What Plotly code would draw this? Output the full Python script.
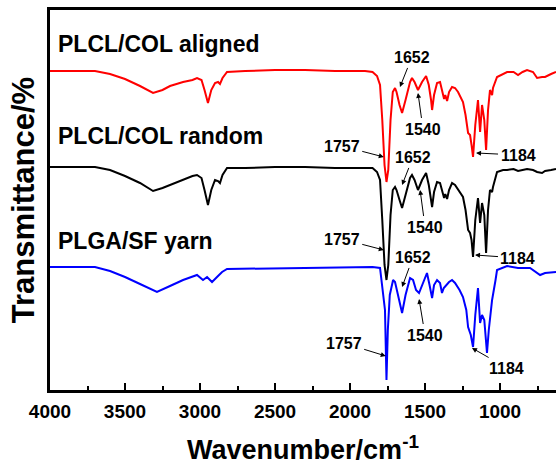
import plotly.graph_objects as go

# ---------------- data (wavenumber in cm^-1, transmittance in stacked arbitrary units) ----------------
aligned_wn = [4000, 3900, 3700, 3600, 3500, 3400, 3313, 3250, 3200, 3113, 3050, 3020, 2990, 2970, 2947,
              2925, 2900, 2880, 2867, 2850, 2820, 2700, 2500, 2300, 2100, 1900, 1850, 1820, 1800, 1785,
              1770, 1757, 1745, 1730, 1715, 1700, 1690, 1670, 1653, 1630, 1600, 1587, 1570, 1547, 1520,
              1493, 1475, 1460, 1453, 1440, 1420, 1400, 1385, 1373, 1365, 1353, 1340, 1320, 1300, 1280,
              1247, 1230, 1213, 1200, 1190, 1180, 1165, 1147, 1133, 1120, 1105, 1093, 1080, 1067, 1053,
              1047, 1020, 980, 953, 910, 880, 850, 820, 780, 753, 720, 700, 660, 627]
aligned_t = [319, 319, 319, 316, 311, 304, 297, 300, 304, 308, 310, 312, 310, 300, 287,
             300, 307, 308, 306, 312, 318, 319, 320, 320, 319, 319, 318, 314, 305, 270,
             225, 208, 220, 270, 298, 302, 298, 285, 277, 290, 308, 312, 308, 300, 308,
             314, 305, 290, 280, 295, 307, 308, 300, 291, 295, 289, 298, 303, 302, 298,
             288, 275, 257, 255, 245, 233, 265, 290, 258, 285, 270, 240, 280, 300, 295,
             302, 313, 316, 318, 318, 315, 318, 320, 318, 312, 313, 313, 316, 318]

random_wn = aligned_wn
random_t = [223, 223, 223, 220, 214, 207, 199, 202, 205, 211, 214, 215, 212, 200, 185,
            200, 210, 209, 207, 215, 222, 222, 223, 223, 222, 222, 222, 218, 210, 170,
            125, 110, 125, 175, 200, 203, 200, 190, 182, 195, 212, 215, 210, 200, 210,
            217, 205, 190, 183, 198, 208, 207, 198, 192, 196, 191, 200, 207, 205, 200,
            193, 180, 160, 157, 150, 133, 170, 192, 167, 187, 175, 137, 180, 200, 198,
            203, 218, 220, 220, 221, 219, 220, 221, 220, 218, 217, 219, 220, 221]

yarn_wn = [4000, 3700, 3600, 3500, 3400, 3287, 3200, 3113, 3020, 2980, 2953, 2920, 2880, 2853, 2820,
           2000, 1850, 1800, 1785, 1775, 1767, 1757, 1748, 1735, 1713, 1700, 1680, 1653, 1630, 1600,
           1580, 1560, 1540, 1515, 1487, 1470, 1453, 1440, 1420, 1400, 1387, 1375, 1360, 1340, 1320,
           1300, 1270, 1247, 1225, 1213, 1195, 1180, 1165, 1147, 1133, 1120, 1105, 1087, 1075, 1053,
           1030, 1020, 953, 880, 800, 760, 733, 700, 627]
yarn_t = [123, 123, 119, 113, 106, 98, 104, 110, 115, 110, 113, 108, 114, 118, 121,
          123, 123, 122, 105, 90, 80, 10, 60, 95, 110, 108, 95, 77, 95, 112,
          110, 100, 97, 107, 117, 105, 92, 105, 110, 107, 97, 102, 105, 108, 110,
          107, 100, 93, 80, 63, 55, 43, 75, 102, 67, 75, 70, 37, 60, 90,
          110, 120, 124, 122, 122, 118, 115, 117, 118]

series_names = ["PLCL/COL aligned", "PLCL/COL random", "PLGA/SF yarn"]
series_colors = ["#ff0000", "#000000", "#0000ff"]

# peak annotations: (label, wavenumber at arrow head, transmittance at arrow head)
peak_labels = ["1652", "1540", "1757", "1184",
               "1652", "1540", "1757", "1184",
               "1652", "1540", "1757", "1184"]
peak_wn = [1667, 1547, 1775, 1160,
           1653, 1533, 1775, 1167,
           1653, 1540, 1762, 1187]
peak_t = [303, 297, 233, 237,
          205, 200, 140, 135,
          103, 91, 34, 42]

x_ticks = [4000, 3500, 3000, 2500, 2000, 1500, 1000]

# ---------------- figure ----------------
FONT = "Liberation Sans, Arial, sans-serif"
fig = go.Figure()
for wn, t, name, col in [(aligned_wn, aligned_t, series_names[0], series_colors[0]),
                         (random_wn, random_t, series_names[1], series_colors[1]),
                         (yarn_wn, yarn_t, series_names[2], series_colors[2])]:
    fig.add_trace(go.Scatter(x=wn, y=t, mode="lines", name=name,
                             line=dict(color=col, width=2), showlegend=False))

# series labels
label_t = [346, 254, 149]
for name, ty in zip(series_names, label_t):
    fig.add_annotation(x=3960, y=ty, text=f"<b>{name}</b>", showarrow=False,
                       xanchor="left", yanchor="middle",
                       font=dict(family=FONT, size=23, color="black"))

offsets = [(12, -30), (5, 36), (-42, -11), (42, 2),
           (11, -28), (5, 37), (-42, -11), (43, 3),
           (11, -30), (6, 36), (-42, -13), (35, 20)]
for lab, wn, t, (ax, ay) in zip(peak_labels, peak_wn, peak_t, offsets):
    fig.add_annotation(x=wn, y=t, text=f"<b>{lab}</b>", showarrow=True,
                       ax=ax, ay=ay, arrowhead=2, arrowsize=1, arrowwidth=1,
                       arrowcolor="black", standoff=0, startstandoff=1,
                       font=dict(family=FONT, size=16, color="black"))

fig.update_layout(
    width=556, height=469,
    margin=dict(l=50, r=0, t=10, b=79),
    paper_bgcolor="white", plot_bgcolor="white",
    font=dict(family=FONT, color="black"),
    xaxis=dict(
        range=[4000, 627], tickvals=x_ticks, ticks="inside", ticklen=7, tickwidth=2,
        tickcolor="black", showline=True, linecolor="black", linewidth=2.5, mirror=True,
        showgrid=False, zeroline=False, automargin=False, ticklabelstandoff=2,
        tickfont=dict(family=FONT, size=19, color="black", weight="bold"),
        minor=dict(tickvals=[3750, 3250, 2750, 2250, 1750, 1250, 750], ticks="inside",
                   ticklen=4, tickwidth=2, tickcolor="black"),
        title=dict(text="Wavenumber/cm<sup>-1</sup>",
                   font=dict(family=FONT, size=27, color="black", weight="bold"), standoff=20),
    ),
    yaxis=dict(
        range=[0, 380], showticklabels=False, ticks="", showline=True, linecolor="black",
        linewidth=2.5, showgrid=False, zeroline=False, automargin=False,
        title=dict(text="Transmittance/%",
                   font=dict(family=FONT, size=31, color="black", weight="bold"), standoff=4),
    ),
)

fig.write_html("out.html", config={"displayModeBar": False},
               post_script="document.body.style.margin='0px';")
